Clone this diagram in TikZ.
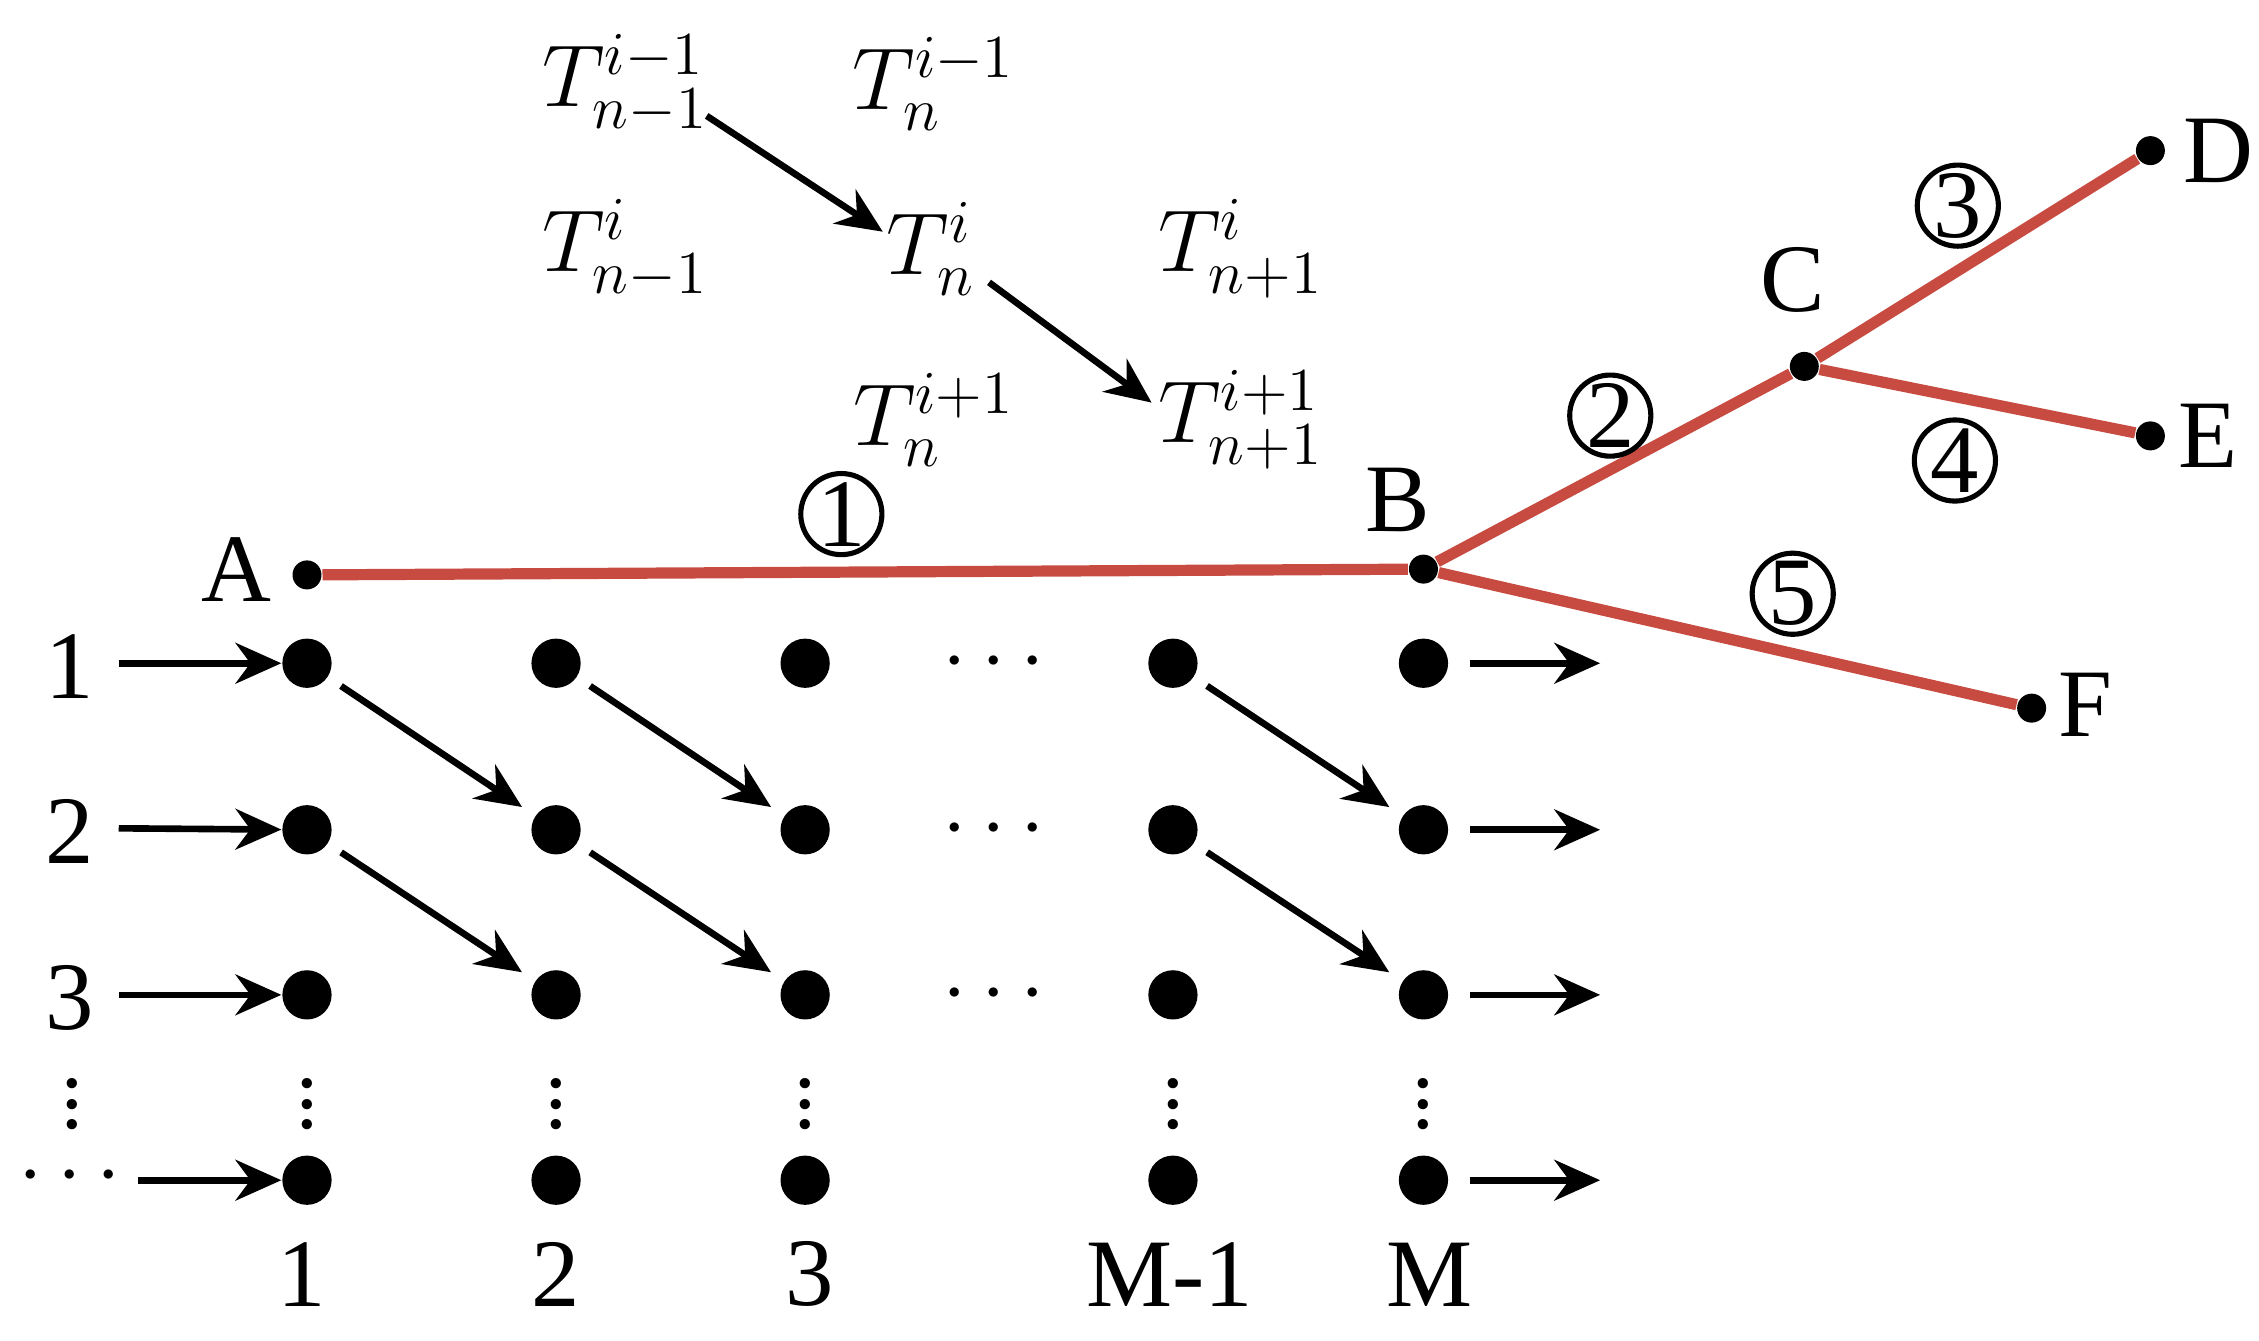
\documentclass[tikz,border=0pt]{standalone}
\usepackage{fontspec}
\setmainfont{Liberation Serif}
\usetikzlibrary{arrows.meta,calc}
\definecolor{tree}{RGB}{200,75,65}
\begin{document}
\begin{tikzpicture}[x=0.01cm,y=-0.01cm,
  big/.style={circle,fill=black,inner sep=0,minimum size=0.34cm},
  small/.style={circle,fill=black,inner sep=0,minimum size=0.2cm},
  lbl/.style={font=\fontsize{19}{22}\selectfont,inner sep=0},
  mth/.style={font=\fontsize{17}{20}\selectfont,inner sep=0},
  arr/.style={-{Stealth[length=9pt,width=8pt]},line width=1.3pt},
  redl/.style={tree,line width=2.2pt},
  num/.style={circle,draw,line width=1pt,minimum size=0.56cm,inner sep=0,font=\fontsize{19}{22}\selectfont},
  vd/.style={font=\fontsize{17}{20}\selectfont,inner sep=0}]
\useasboundingbox (0,0) rectangle (1560,926);
% grid
\foreach \c/\x in {1/212,2/384,3/556,4/810,5/983}{
  \foreach \r/\y in {1/458,2/573,3/687,4/815}{
    \node[big] (g\c\r) at (\x,\y) {};
  }
  \node[vd] (vd\c) at (\x,752) {$\vdots$};
}
\node[vd] (vd0) at (50,752) {$\vdots$};
\foreach \r/\y in {1/458,2/573,3/687}{ \node[lbl] (dots\r) at (686,\y) {$\cdots$}; }
\foreach \r/\y/\t in {1/460/1,2/574/2,3/689/3}{
  \node[lbl] (L\r) at (48,\y) {\t};
  \draw[arr] (82,\y-2) coordinate (s\r) -- (g1\r);
}
\node[lbl] (L4) at (48,813) {$\cdots$};
\draw[arr] (95,815) coordinate (s4) -- (g14);
\foreach \r/\y in {1/458,2/573,3/687,4/815}{
  \draw[arr] (g5\r) ++(32,0) coordinate (e\r) -- ++(90,0);
}
\foreach \c/\x/\t in {1/208/1,2/384/2,3/559/3,4/808/M-1,5/987/M}{
  \node[lbl] (B\c) at (\x,880) {\t};
}
% diagonal arrows
\foreach \a/\b in {1/2,2/3,4/5}{
  \foreach \r/\s in {1/2,2/3}{
    \draw[arr,shorten <=3pt,shorten >=3pt] (g\a\r) -- (g\b\s);
  }
}
% tree
\node[small] (A) at (212,397) {};
\node[small] (Bn) at (983,393) {};
\node[small] (C) at (1246,253) {};
\node[small] (D) at (1485,104) {};
\node[small] (E) at (1485,301) {};
\node[small] (F) at (1403,489) {};
\draw[redl] (A)--(Bn) (Bn)--(C) (C)--(D) (C)--(E) (Bn)--(F);
\node[lbl] (tA) at (163,393) {A};
\node[lbl] (tB) at (965,345) {B};
\node[lbl] (tC) at (1238,193) {C};
\node[lbl] (tD) at (1532,104) {D};
\node[lbl] (tE) at (1525,301) {E};
\node[lbl] (tF) at (1440,487) {F};
\node[num] (n1) at (581,355) {1};
\node[num] (n2) at (1112,287) {2};
\node[num] (n3) at (1352,142) {3};
\node[num] (n4) at (1350,318) {4};
\node[num] (n5) at (1238,410) {5};
% equations
\node[mth] (t1) at (432,58) {$T_{n-1}^{i-1}$};
\node[mth] (t2) at (645,58) {$T_{n}^{i-1}$};
\node[mth] (t3) at (432,172) {$T_{n-1}^{i}$};
\node[mth] (t4) at (643,172) {$T_{n}^{i}$};
\node[mth] (t5) at (857,172) {$T_{n+1}^{i}$};
\node[mth] (t6) at (645,290) {$T_{n}^{i+1}$};
\node[mth] (t7) at (857,290) {$T_{n+1}^{i+1}$};
\draw[arr] (488,80) coordinate (p1) -- ($(t4.west)+(-2,-12)$);
\draw[arr] (683,195) coordinate (p2) -- ($(t7.west)+(-4,-12)$);
\end{tikzpicture}
\end{document}
